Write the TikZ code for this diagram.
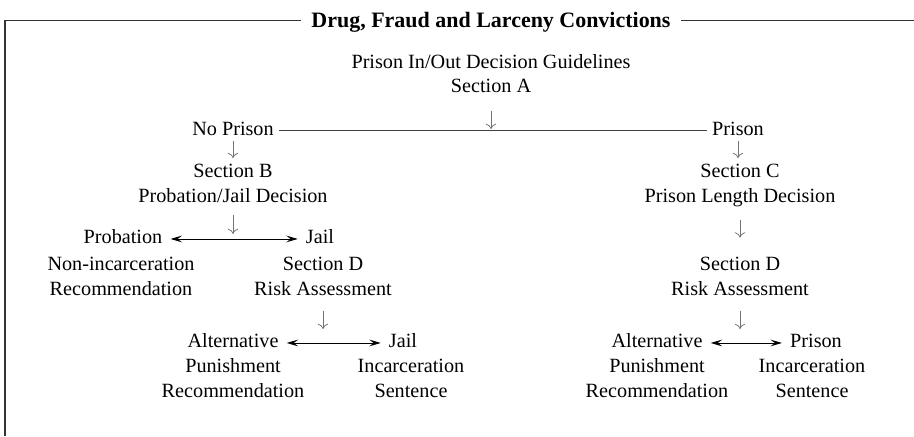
\documentclass[tikz,border=0pt]{standalone}
\usepackage{fontspec}
\setmainfont{Liberation Serif}
\usetikzlibrary{arrows.meta}
\begin{document}
\begin{tikzpicture}[
  every node/.style={font=\fontsize{11.5}{14.2}\selectfont, align=center, anchor=base, inner sep=3pt},
  heading/.style={font=\fontsize{12.5}{15}\selectfont\bfseries, inner xsep=6pt},
  frame/.style={draw=black!80, line width=0.6pt},
  split/.style={draw=black!75, line width=0.6pt},
  godown/.style={draw=black!55, line width=0.45pt, -{To[length=3pt,width=6pt]}},
  twoway/.style={draw=black, line width=0.5pt, {Stealth[length=6.5pt,width=3.8pt,inset=2.5pt]}-{Stealth[length=6.5pt,width=3.8pt,inset=2.5pt]}, shorten <=1.5pt, shorten >=1.5pt}]
\useasboundingbox (0,0) rectangle (18.28,-8.72);
\coordinate (F_0) at (0.1,-0.414);
\coordinate (F_1) at (0.1,-8.72);
\coordinate (F_2) at (18.28,-0.414);
\node[heading] (T_0) at (9.82,-0.56) {Drug, Fraud and Larceny Convictions};
\draw[frame] (T_0.west |- F_0) -- (F_0) -- (F_1);
\draw[frame] (T_0.east |- F_0) -- (F_2);
\node (A_0) at (9.82,-1.86) {Prison In/Out Decision Guidelines\\Section A};
\node (A_1) at (4.66,-2.70) {No Prison};
\node (A_2) at (14.76,-2.70) {Prison};
\draw[split] (A_1.mid east) -- (A_2.mid west);
\coordinate (A_s) at (A_0 |- A_1.mid);
\draw[godown, shorten <=0.24cm, shorten >=0.04cm] (A_0.south) -- (A_s);
\node (B_0) at (4.66,-4.04) {Section B\\Probation/Jail Decision};
\draw[godown] (A_1) -- (B_0);
\node (B_1) at (2.46,-4.86) {Probation};
\node (B_2) at (6.40,-4.86) {Jail};
\draw[twoway] (B_1.mid east) -- (B_2.mid west);
\coordinate (B_s) at (B_0 |- B_1.mid);
\draw[godown, shorten <=0.14cm, shorten >=0.1cm] (B_0.south) -- (B_s);
\node (B_3) at (2.42,-5.90) {Non-incarceration\\Recommendation};
\node (D_1) at (6.46,-5.90) {Section D\\Risk Assessment};
\node (D_2) at (4.66,-6.94) {Alternative};
\node (D_3) at (8.06,-6.94) {Jail};
\draw[twoway] (D_2.mid east) -- (D_3.mid west);
\coordinate (D_s) at (D_1 |- D_2.mid);
\draw[godown, shorten <=0.2cm, shorten >=0.28cm] (D_1.south) -- (D_s);
\node (D_4) at (4.66,-7.94) {Punishment\\Recommendation};
\node (D_5) at (8.22,-7.94) {Incarceration\\Sentence};
\node (C_0) at (14.8,-4.04) {Section C\\Prison Length Decision};
\draw[godown] (A_2.south) -- (A_2.south |- C_0.north);
\node (C_1) at (14.8,-5.90) {Section D\\Risk Assessment};
\draw[godown, shorten <=0.17cm, shorten >=0.27cm] (C_0.south) -- (C_0.south |- C_1.north);
\node (C_2) at (13.14,-6.94) {Alternative};
\node (C_3) at (16.32,-6.94) {Prison};
\draw[twoway] (C_2.mid east) -- (C_3.mid west);
\coordinate (C_s) at (C_1 |- C_2.mid);
\draw[godown, shorten <=0.2cm, shorten >=0.28cm] (C_1.south) -- (C_s);
\node (C_4) at (13.14,-7.94) {Punishment\\Recommendation};
\node (C_5) at (16.24,-7.94) {Incarceration\\Sentence};
\end{tikzpicture}
\end{document}
